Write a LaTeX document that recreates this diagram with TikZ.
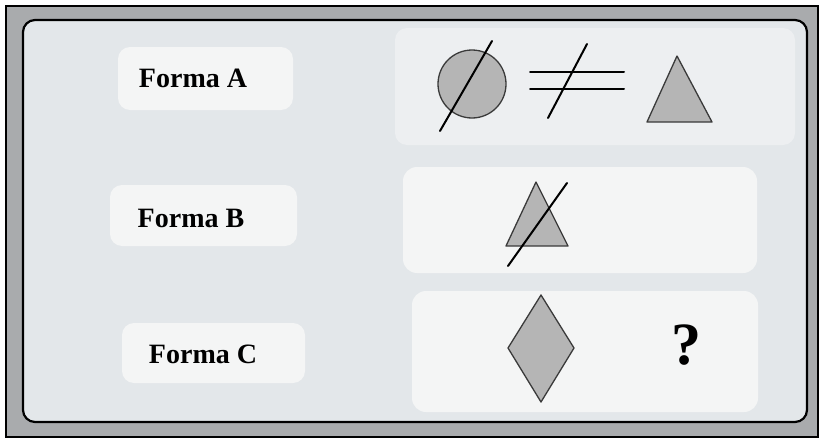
\documentclass[tikz,border=0pt]{standalone}
\usepackage{fontspec}
\setmainfont{Liberation Serif}
\begin{document}
\begin{tikzpicture}[x=1pt,y=-1pt,
  lbl/.style={fill=labelbg, rounded corners=12pt},
  shp/.style={fill=shapegray, draw=shapeedge, line width=1.3pt, line join=round},
  cut/.style={draw=black, line width=2pt, line cap=round},
  ftext/.style={font=\bfseries\fontsize{28}{30}\selectfont, text=black, inner sep=0pt}]
\definecolor{bandgray}{HTML}{A9ABAD}
\definecolor{innerbg}{HTML}{E3E7EA}
\definecolor{labelbg}{HTML}{F4F5F5}
\definecolor{shapegray}{HTML}{B5B5B5}
\definecolor{shapeedge}{HTML}{3A3A3A}
\useasboundingbox (0,0) rectangle (820,439);
\fill[white] (0,0) rectangle (820,439);
% outer frame
\draw[fill=bandgray, line width=1.5pt] (6,6) rectangle (818,437);
\draw[fill=innerbg, line width=2.2pt, rounded corners=12pt] (23,20) rectangle (807,422);
% light panels
\fill[labelbg!60!innerbg, rounded corners=12pt] (395,28) rectangle (795,145);
\fill[labelbg, rounded corners=14pt] (403,167) rectangle (757,273);
\fill[labelbg, rounded corners=14pt] (412,291) rectangle (758,412);
% label boxes
\fill[lbl] (118,47) rectangle (293,110);
\fill[lbl] (110,185) rectangle (297,246);
\fill[lbl] (122,323) rectangle (305,383);
\node[ftext] (fa) at (193,78) {Forma A};
\node[ftext] (fb) at (191,218) {Forma B};
\node[ftext] (fc) at (203,354) {Forma C};
% row A
\draw[shp] (472,84) circle (34);
\coordinate (ca1) at (440,131);
\coordinate (ca2) at (492,41);
\draw[cut] (ca1) -- (ca2);
\coordinate (n1) at (530,72); \coordinate (n2) at (624,72);
\coordinate (n3) at (530,89); \coordinate (n4) at (624,89);
\draw[cut] (n1) -- (n2);
\draw[cut] (n3) -- (n4);
\coordinate (n5) at (548,118); \coordinate (n6) at (587,44);
\draw[cut] (n5) -- (n6);
\draw[shp] (677,56) -- (712,122) -- (647,122) -- cycle;
% row B
\draw[shp] (536,182) -- (568,246) -- (506,246) -- cycle;
\coordinate (cb1) at (508,266);
\coordinate (cb2) at (567,183);
\draw[cut] (cb1) -- (cb2);
% row C
\draw[shp] (541,295) -- (574,348) -- (541,402) -- (508,348) -- cycle;
\node[font=\bfseries\fontsize{60}{62}\selectfont, inner sep=0pt] (q) at (686,345) {?};
\end{tikzpicture}
\end{document}
